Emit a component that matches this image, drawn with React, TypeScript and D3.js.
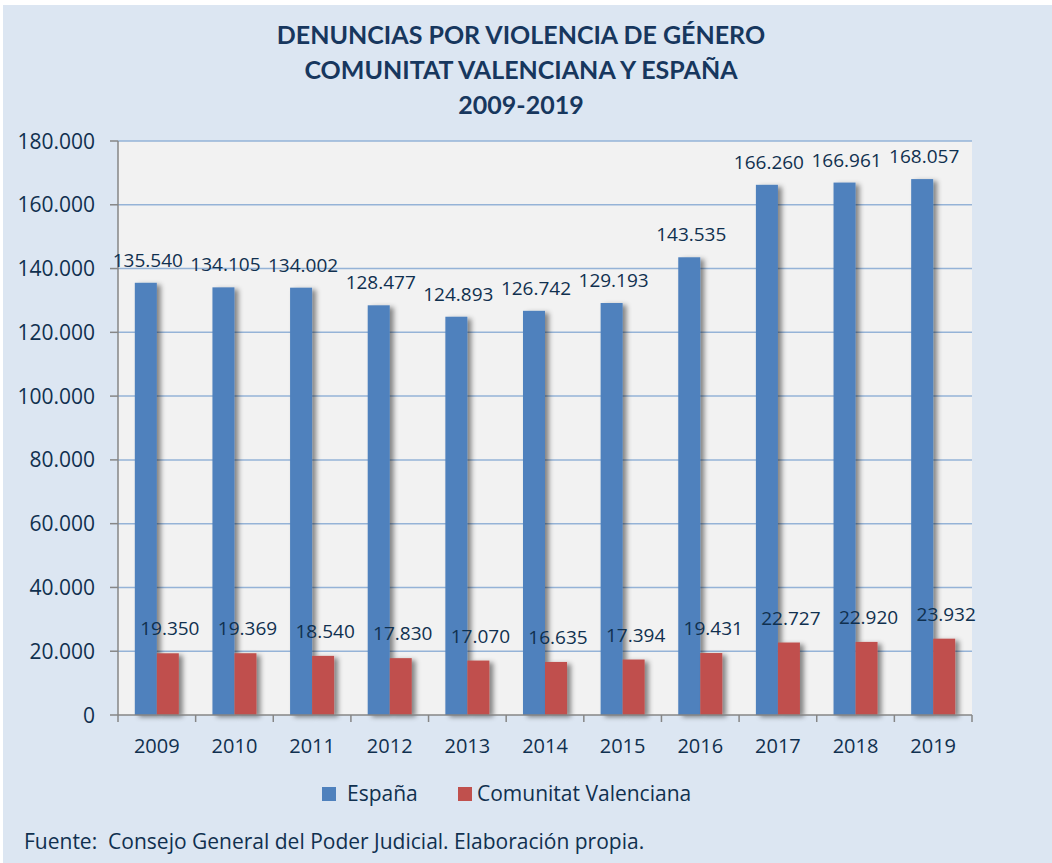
import { scaleBand, scaleLinear, formatLocale } from 'd3'

const years = ['2009', '2010', '2011', '2012', '2013', '2014', '2015', '2016', '2017', '2018', '2019']
const espana = [135540, 134105, 134002, 128477, 124893, 126742, 129193, 143535, 166260, 166961, 168057]
const valenciana = [19350, 19369, 18540, 17830, 17070, 16635, 17394, 19431, 22727, 22920, 23932]
const yTicks = [0, 20000, 40000, 60000, 80000, 100000, 120000, 140000, 160000, 180000]
const seriesNames = ['España', 'Comunitat Valenciana']
const seriesColors = ['#4F81BD', '#C0504D']
const titleLines = ['DENUNCIAS POR VIOLENCIA DE GÉNERO', 'COMUNITAT VALENCIANA Y ESPAÑA', '2009-2019']

const esLocale = formatLocale({ decimal: ',', thousands: '.', grouping: [3], currency: ['', '€'] })
const fmt = esLocale.format(',d')

const W = 1052
const H = 863
const textColor = '#10304F'
const font = '"Open Sans", sans-serif'

export default function App() {
  // plot area
  const left = 118
  const right = 972
  const top = 141
  const bottom = 715

  const x = scaleBand<string>().domain(years).range([left, right]).paddingInner(0.433).paddingOuter(0.2165)
  const xs = scaleBand<string>().domain(seriesNames).range([0, x.bandwidth()])
  const y = scaleLinear().domain([0, 180000]).range([bottom, top])
  const step = x.step()

  const series = [espana, valenciana]
  const labelOffset = [16, 18]

  return (
    <svg
      width={W}
      height={H}
      style={{ position: 'absolute', left: 0, top: 0, display: 'block' }}
      fontFamily={font}
    >
      <defs>
        <filter id="shadow" x="-30%" y="-10%" width="180%" height="130%">
          <feDropShadow dx="4" dy="2" stdDeviation="2.5" floodColor="#000" floodOpacity="0.45" />
        </filter>
      </defs>
      <rect x={0} y={0} width={W} height={H} fill="#ffffff" />
      <rect x={3} y={5} width={W - 3} height={H - 5} fill="#DCE6F2" />

      {/* title */}
      {titleLines.map((t, i) => (
        <text
          key={t}
          x={521}
          y={44 + i * 35}
          textAnchor="middle"
          fontWeight="bold"
          fontSize={25}
          fill="#17375E"
          fontFamily='"Lato", sans-serif'
        >
          {t}
        </text>
      ))}

      {/* plot area */}
      <rect x={left} y={top} width={right - left} height={bottom - top} fill="#F2F2F2" />

      {/* gridlines */}
      {yTicks.filter((t) => t > 0).map((t) => (
        <line key={t} x1={left} x2={right} y1={y(t)} y2={y(t)} stroke="#95B3D7" strokeWidth={1.5} />
      ))}

      {/* bars */}
      {series.map((vals, si) =>
        vals.map((v, i) => (
          <rect
            key={si + '-' + i}
            x={(x(years[i]) as number) + (xs(seriesNames[si]) as number)}
            y={y(v)}
            width={xs.bandwidth()}
            height={bottom - y(v)}
            fill={seriesColors[si]}
            filter="url(#shadow)"
          />
        ))
      )}

      {/* y axis */}
      <line x1={left} x2={left} y1={top} y2={bottom} stroke="#868686" strokeWidth={1.5} />
      {yTicks.map((t) => (
        <g key={t}>
          <line x1={left - 8} x2={left} y1={y(t)} y2={y(t)} stroke="#868686" strokeWidth={1.5} />
          <text x={95} y={y(t) + 7.5} textAnchor="end" fontSize={21} fill={textColor}>
            {t === 0 ? '0' : fmt(t)}
          </text>
        </g>
      ))}

      {/* x axis */}
      <line x1={left} x2={right} y1={bottom} y2={bottom} stroke="#868686" strokeWidth={1.5} />
      {years.map((yr, i) => (
        <line
          key={'t' + yr}
          x1={left + i * step}
          x2={left + i * step}
          y1={bottom}
          y2={bottom + 7}
          stroke="#868686"
          strokeWidth={1.5}
        />
      ))}
      <line x1={right} x2={right} y1={bottom} y2={bottom + 7} stroke="#868686" strokeWidth={1.5} />
      {years.map((yr) => (
        <text
          key={'l' + yr}
          x={(x(yr) as number) + x.bandwidth() / 2}
          y={753}
          textAnchor="middle"
          fontSize={20}
          fill={textColor}
        >
          {yr}
        </text>
      ))}

      {/* data labels */}
      {series.map((vals, si) =>
        vals.map((v, i) => (
          <text
            key={'d' + si + '-' + i}
            x={(x(years[i]) as number) + (xs(seriesNames[si]) as number) + xs.bandwidth() / 2 + 2}
            y={y(v) - labelOffset[si]}
            textAnchor="middle"
            fontSize={19}
            fill={textColor}
          >
            {fmt(v)}
          </text>
        ))
      )}

      {/* legend */}
      <rect x={322} y={787} width={14} height={14} fill={seriesColors[0]} />
      <text x={347} y={801} fontSize={21} fill={textColor}>
        {seriesNames[0]}
      </text>
      <rect x={458} y={787} width={14} height={14} fill={seriesColors[1]} />
      <text x={477} y={801} fontSize={21} fill={textColor}>
        {seriesNames[1]}
      </text>

      {/* source */}
      <text x={24} y={849} fontSize={21} fill={textColor} xmlSpace="preserve">
        Fuente:  Consejo General del Poder Judicial. Elaboración propia.
      </text>
    </svg>
  )
}
